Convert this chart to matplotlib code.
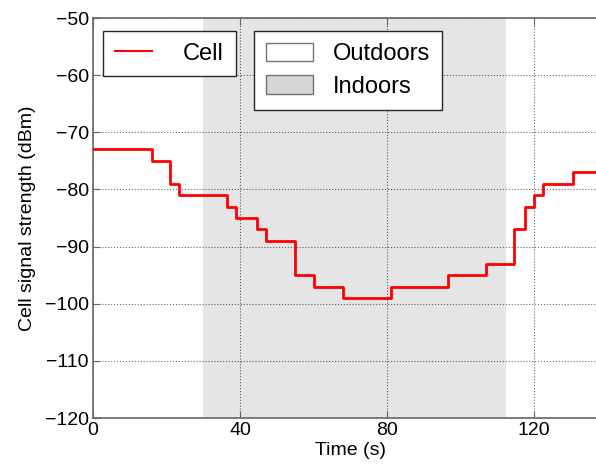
import matplotlib
matplotlib.use('Agg')
import matplotlib.pyplot as plt
from matplotlib.patches import Patch
from matplotlib.lines import Line2D

plt.rcParams['font.family'] = ['Liberation Sans', 'DejaVu Sans']
plt.rcParams['font.size'] = 14

# step change times (s) and the signal level held from each time on (dBm)
times = [0, 16, 21, 23.5, 36.5, 39, 44.5, 47, 55, 60, 68, 81,
         96.5, 107, 114.5, 117.5, 120, 122.5, 130.5, 140]
levels = [-73, -75, -79, -81, -83, -85, -87, -89, -95, -97, -99, -97,
          -95, -93, -87, -83, -81, -79, -77, -77]
indoor_span = (30, 112.5)
xticks = [0, 40, 80, 120]
yticks = [-120, -110, -100, -90, -80, -70, -60, -50]

fig = plt.figure(figsize=(5.96, 4.68), dpi=100)
ax = fig.add_axes([93/596, 50/468, 514.5/596, 400/468])

ax.axvspan(*indoor_span, color='#e5e5e5', lw=0, zorder=0)
ax.step(times, levels, where='post', color='red', lw=2, zorder=3)

ax.set_xlim(0, 140)
ax.set_ylim(-120, -50)
ax.set_xticks(xticks)
ax.set_yticks(yticks)
ax.set_yticklabels(['\u2212%d' % -v for v in yticks])
ax.grid(True, color='black', linestyle=':', lw=0.8, alpha=0.6)
ax.set_axisbelow(True)
ax.tick_params(direction='in', length=5, color='0.4', pad=3,
               top=True, right=True)
for sp in ax.spines.values():
    sp.set_color('0.4')
    sp.set_linewidth(1.2)

ax.set_xlabel('Time (s)', labelpad=2)
ax.set_ylabel('Cell signal strength (dBm)', labelpad=6)

leg1 = ax.legend([Line2D([], [], color='red', lw=1.5)], ['Cell'],
                 loc='upper left', bbox_to_anchor=(0.019, 0.968),
                 borderaxespad=0, handletextpad=1.3, handlelength=1.6,
                 fancybox=False, framealpha=1, edgecolor='0.15',
                 borderpad=0.5, fontsize=17)
leg1.get_frame().set_linewidth(1.0)
ax.add_artist(leg1)

leg2 = ax.legend([Patch(facecolor='white', edgecolor='0.45'),
                  Patch(facecolor='#d6d6d6', edgecolor='0.45')],
                 ['Outdoors', 'Indoors'],
                 loc='upper left', bbox_to_anchor=(0.313, 0.968),
                 borderaxespad=0, handletextpad=0.85, handlelength=2.0,
                 handleheight=0.8, labelspacing=0.45,
                 fancybox=False, framealpha=1, edgecolor='0.15',
                 borderpad=0.5, fontsize=17)
leg2.get_frame().set_linewidth(1.0)

fig.savefig('out.png', dpi=100)
